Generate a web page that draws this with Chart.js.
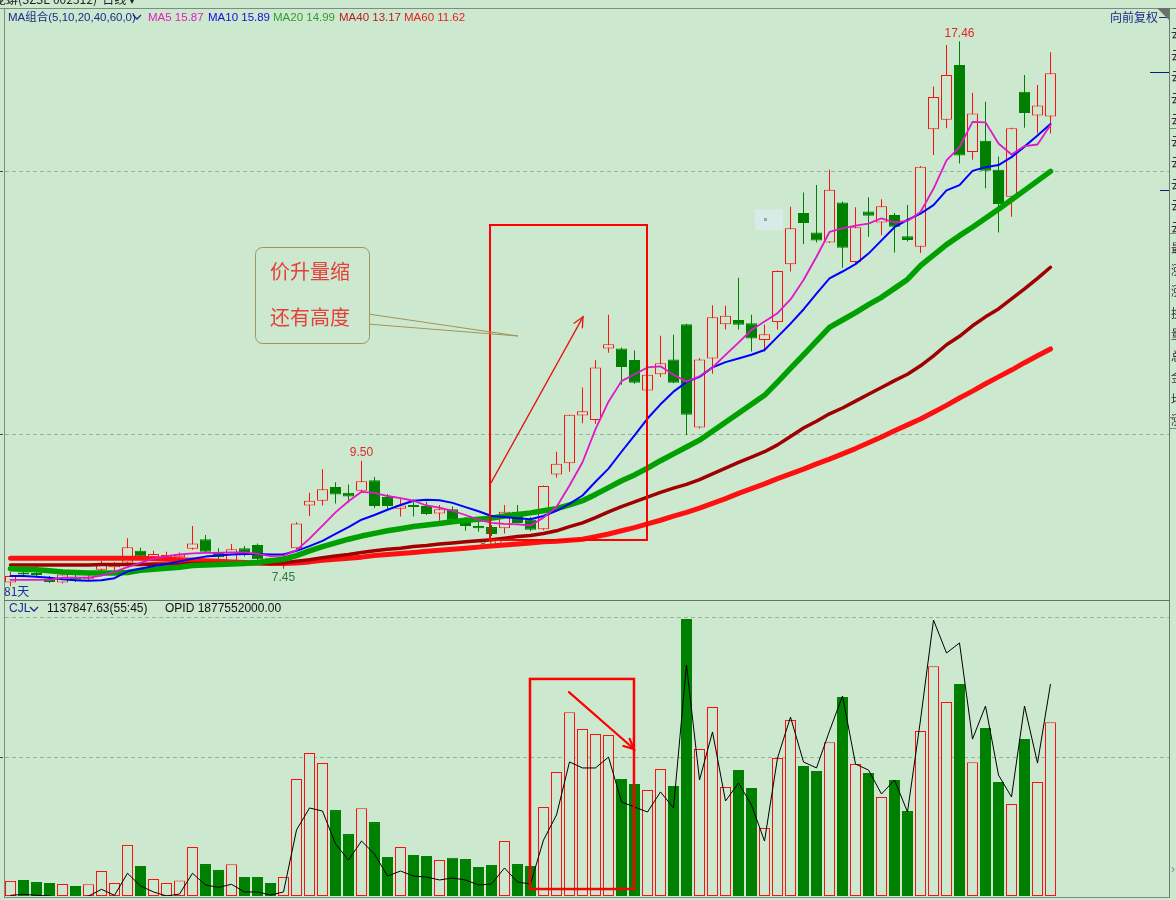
<!DOCTYPE html>
<html>
<head>
<meta charset="utf-8">
<script src="https://cdn.jsdelivr.net/npm/chart.js@4.4.1/dist/chart.umd.min.js"></script>
<style>
  html, body { margin:0; padding:0; background:#CCE8CF; overflow:hidden; }
  body { width:1176px; height:900px; position:relative; }
  canvas { position:absolute; left:0; }
  #priceChart { top:0; }
  #volChart { top:600px; }
  .t { position:absolute; white-space:nowrap; font-family:"Liberation Sans","Noto Sans CJK SC",sans-serif; font-size:12px; line-height:14px; }
  .cjk { font-family:"Noto Sans CJK SC",sans-serif; }
  .hl { position:absolute; height:1px; background:#7f8b7f; }
  .vl { position:absolute; width:1px; background:#7f8b7f; }
</style>
</head>
<body>
<canvas id="priceChart" width="1176" height="600"></canvas>
<canvas id="volChart" width="1176" height="300"></canvas>

<!-- frame -->
<div class="hl" style="left:0;top:8px;width:1176px;"></div>
<div class="vl" style="left:4px;top:8px;height:890px;"></div>
<div class="vl" style="left:1169px;top:8px;height:890px;background:#6f786f;"></div>
<div class="hl" style="left:4px;top:600px;width:1166px;background:#66706a;"></div>
<div class="hl" style="left:4px;top:897px;width:1166px;"></div>

<!-- title (cut off at top) -->
<div class="t cjk" style="left:-6px;top:-8px;color:#222;">龙蟒(SZSE 002312)&nbsp;&nbsp;日线 ▾</div>

<!-- MA header -->
<div class="t" style="left:8px;top:10px;color:#1c2a8c;font-size:11.5px;">MA组合(5,10,20,40,60,0)</div>
<svg style="position:absolute;left:132px;top:14px" width="10" height="7"><polyline points="1,1 5,5 9,1" fill="none" stroke="#1c2a8c" stroke-width="1.3"/></svg>
<div class="t" id="hMA5"  style="left:148px;top:10px;color:#e020c0;font-size:11.5px;"></div>
<div class="t" id="hMA10" style="left:208px;top:10px;color:#1010d8;font-size:11.5px;"></div>
<div class="t" id="hMA20" style="left:273px;top:10px;color:#2f9f2f;font-size:11.5px;"></div>
<div class="t" id="hMA40" style="left:339px;top:10px;color:#b82020;font-size:11.5px;"></div>
<div class="t" id="hMA60" style="left:404px;top:10px;color:#e82020;font-size:11.5px;"></div>

<!-- right-top -->
<div class="t cjk" style="left:1110px;top:10px;color:#1a2a8a;">向前复权</div>
<div style="position:absolute;left:1159px;top:17px;width:9px;height:1px;background:#1a2a8a;"></div>
<svg style="position:absolute;left:1157px;top:8px" width="12" height="12"><polygon points="0,0 12,0 12,12" fill="#6e6e6e"/></svg>
<div style="position:absolute;left:1150px;top:72px;width:19px;height:1px;background:#0c1c7c;"></div>
<div style="position:absolute;left:1160px;top:190px;width:9px;height:1px;background:#0c1c7c;"></div>

<!-- right strip (cut off) -->
<div class="t cjk" style="left:1171px;top:22px;width:5px;overflow:hidden;line-height:21.5px;color:#333;font-size:12px;">云<br>云<br>云<br>云<br>云<br>云<br>云<br>云<br>云<br>云<br>最<br>涨<br>涨<br>换<br>量<br>总<br>金<br>均<br>涨</div>
<div class="hl" style="left:1170px;top:128px;width:6px;"></div>
<div class="hl" style="left:1170px;top:233px;width:6px;"></div>
<div class="hl" style="left:1170px;top:417px;width:6px;"></div>
<div class="hl" style="left:1170px;top:428px;width:6px;"></div>
<div class="t" style="left:1171px;top:862px;color:#889;font-size:12px;">›</div>

<!-- bottom of price panel -->
<div class="t cjk" id="daysLbl" style="left:4px;top:584px;color:#1c309a;"></div>

<!-- volume header -->
<div class="t" style="left:9px;top:601px;color:#1a2a8a;">CJL</div>
<svg style="position:absolute;left:29px;top:606px" width="10" height="7"><polyline points="1,1 5,5 9,1" fill="none" stroke="#1a2a8a" stroke-width="1.3"/></svg>
<div class="t" style="left:47px;top:601px;color:#111;">1137847.63(55:45)</div>
<div class="t" style="left:165px;top:601px;color:#111;">OPID 1877552000.00</div>

<script>
// ---------------- DATA ----------------
const days = Array.from({length: 81}, (_, i) => i);   // trading-day index (81天)
const openP  = [7.19,7.38,7.37,7.26,7.19,7.29,7.26,7.43,7.48,7.57, 7.79,7.67,7.67,7.67,7.83,8.01,7.77,7.60,7.84,7.90, 7.65,7.62,7.84,8.65,8.74,9.00,8.89,8.93,9.13,8.81, 8.59,8.66,8.64,8.50,8.58,8.38,8.26,8.24,8.22,8.53, 8.38,8.20,9.24,9.45,10.36,10.27,11.63,11.63,11.41,10.83, 11.14,11.42,12.09,10.13,11.44,12.09,12.17,12.11,11.79,12.13, 13.23,14.20,13.83,13.64,14.40,13.27,14.23,14.02,14.16,13.76, 13.56,15.79,15.97,17.01,15.36,15.57,15.02,14.51,16.50,16.05, 16.03];
const highP  = [7.39,7.48,7.50,7.31,7.36,7.33,7.35,7.60,7.58,8.03, 7.85,7.79,7.77,7.76,8.26,8.09,7.84,7.92,7.88,7.93, 7.66,7.75,8.33,8.89,9.34,9.09,9.05,9.50,9.19,8.87, 8.79,8.77,8.72,8.66,8.63,8.43,8.38,8.28,8.66,8.66, 8.43,9.03,9.67,10.37,10.89,11.41,12.27,11.65,11.59,11.13, 11.87,11.89,12.10,11.45,12.45,12.44,12.97,12.27,12.08,13.11, 14.32,14.59,14.73,15.02,14.42,14.31,14.50,14.46,14.20,14.35, 15.09,16.60,17.39,17.46,16.48,16.31,15.27,15.82,16.82,16.63, 17.25];
const lowP   = [7.12,7.29,7.29,7.18,7.17,7.20,7.22,7.39,7.41,7.54, 7.65,7.60,7.65,7.64,7.81,7.75,7.64,7.58,7.68,7.60, 7.58,7.45,7.81,8.45,8.65,8.69,8.70,8.91,8.60,8.57, 8.44,8.44,8.47,8.36,8.31,8.17,8.15,8.07,8.12,8.31, 8.16,8.18,9.18,9.29,10.21,10.20,11.55,10.94,10.96,10.82, 11.09,10.97,9.99,10.11,11.15,11.99,11.99,11.57,11.57,11.99, 13.09,13.61,13.64,13.63,13.16,13.25,13.75,13.78,13.45,13.66, 13.44,15.30,15.81,15.14,15.21,14.67,13.83,14.13,15.82,15.71, 15.71];
const closeP = [7.31,7.34,7.33,7.20,7.34,7.24,7.30,7.54,7.54,7.86, 7.68,7.73,7.71,7.72,7.93,7.77,7.67,7.82,7.74,7.63, 7.60,7.67,8.31,8.74,8.96,8.86,8.82,9.11,8.64,8.64, 8.65,8.62,8.49,8.58,8.36,8.26,8.22,8.11,8.53,8.32, 8.19,9.02,9.44,10.37,10.44,11.27,11.71,11.28,10.98,11.13, 11.35,10.98,10.37,11.42,12.22,12.25,12.08,11.82,11.90,13.10, 13.91,14.01,13.68,14.64,13.54,13.93,14.15,14.33,13.94,13.69, 15.08,16.40,16.82,15.29,16.09,15.00,14.37,15.81,16.10,16.24, 16.85];

const ma5  = [7.24,7.24,7.24,7.24,7.28,7.28,7.28,7.32,7.39,7.48, 7.56,7.64,7.69,7.72,7.74,7.75,7.75,7.76,7.76,7.73, 7.69,7.70,7.80,8.02,8.27,8.52,8.73,8.91,8.89,8.83, 8.79,8.74,8.65,8.61,8.55,8.47,8.38,8.32,8.30,8.29, 8.27,8.42,8.62,9.03,9.47,10.10,10.62,11.01,11.14,11.27, 11.29,11.13,11.00,11.10,11.27,11.51,11.74,11.98,12.14,12.30, 12.56,12.93,13.37,13.84,13.91,13.96,14.00,14.10,14.02,14.05, 14.22,14.66,15.20,15.45,15.93,15.92,15.52,15.31,15.47,15.50, 15.87];
const ma10 = [7.31,7.31,7.30,7.28,7.25,7.23,7.22,7.23,7.27,7.40, 7.45,7.50,7.54,7.59,7.64,7.68,7.70,7.72,7.73,7.73, 7.72,7.72,7.79,7.88,7.98,8.11,8.24,8.38,8.47,8.57, 8.66,8.74,8.76,8.75,8.70,8.62,8.54,8.45,8.43,8.41, 8.39,8.45,8.55,8.68,8.84,9.10,9.35,9.67,9.98,10.30, 10.57,10.81,10.99,11.09,11.27,11.37,11.44,11.51,11.60,11.85, 12.10,12.37,12.67,12.96,13.09,13.23,13.43,13.68,13.93,14.07, 14.19,14.35,14.63,14.73,15.00,15.07,15.11,15.26,15.46,15.67, 15.89];
const ma20 = [7.45,7.44,7.43,7.41,7.39,7.38,7.37,7.37,7.37,7.38, 7.42,7.44,7.46,7.48,7.51,7.52,7.53,7.54,7.55,7.57, 7.60,7.63,7.70,7.79,7.87,7.94,8.01,8.07,8.12,8.17, 8.21,8.25,8.28,8.31,8.34,8.37,8.39,8.41,8.45,8.48, 8.51,8.55,8.59,8.66,8.74,8.86,8.99,9.12,9.23,9.36, 9.50,9.63,9.76,9.89,10.06,10.23,10.40,10.57,10.74,10.99, 11.25,11.51,11.77,12.03,12.17,12.31,12.46,12.60,12.77,12.94, 13.20,13.40,13.60,13.77,13.93,14.10,14.27,14.45,14.63,14.81, 14.99];
const ma40 = [7.52,7.52,7.52,7.52,7.52,7.52,7.52,7.53,7.53,7.53, 7.53,7.54,7.54,7.54,7.55,7.55,7.55,7.55,7.55,7.55, 7.55,7.56,7.59,7.62,7.66,7.69,7.72,7.76,7.79,7.82, 7.84,7.87,7.89,7.92,7.94,7.96,7.98,8.00,8.03,8.06, 8.08,8.12,8.17,8.25,8.32,8.42,8.53,8.63,8.72,8.81, 8.90,8.98,9.05,9.14,9.25,9.36,9.47,9.57,9.67,9.80, 9.96,10.12,10.25,10.39,10.50,10.63,10.76,10.89,11.02,11.14, 11.30,11.49,11.70,11.86,12.06,12.23,12.38,12.57,12.76,12.96, 13.17];
const ma60 = [7.65,7.65,7.65,7.65,7.65,7.65,7.65,7.65,7.65,7.65, 7.65,7.64,7.63,7.62,7.61,7.60,7.59,7.58,7.57,7.56, 7.55,7.55,7.56,7.58,7.61,7.63,7.65,7.67,7.70,7.72, 7.74,7.76,7.78,7.80,7.82,7.84,7.86,7.88,7.90,7.92, 7.94,7.96,7.97,7.99,8.01,8.06,8.11,8.17,8.23,8.30, 8.37,8.45,8.52,8.60,8.69,8.78,8.88,8.97,9.06,9.16, 9.25,9.34,9.44,9.53,9.63,9.73,9.84,9.95,10.07,10.18, 10.29,10.42,10.55,10.69,10.82,10.96,11.09,11.22,11.36,11.49, 11.62];

const volume = [10.8,11.5,10.0,9.3,8.6,7.2,8.4,17.9,9.3,36.6, 21.5,12.2,9.3,11.2,35.1,22.9,18.6,22.7,13.6,13.6, 9.3,13.6,83.9,102.5,95.3,61.6,44.4,62.9,53.0,28.0, 35.1,29.4,28.7,25.8,27.5,26.5,20.8,22.2,39.4,22.9, 21.5,63.8,88.9,131.7,119.7,116.1,115.4,83.9,80.3,76.0, 91.0,78.9,198.6,105.4,135.5,78.1,90.3,77.4,48.7,98.9, 126.2,93.2,89.6,110.2,142.7,94.6,88.2,71.0,83.2,60.9, 118.3,164.7,139.1,152.0,95.8,120.4,81.7,66.0,112.5,81.7, 124.5];
const volLine = [0.5,1.2,0.5,0,-2,-2,0,4.8,0.5,16.3, 7.2,2.9,0,1.4,16.3,7.9,6.2,8.4,2.9,2.9, 0.7,2.9,47.3,63.1,60.9,37.3,25.8,39.4,30.1,14.3, 17.9,14.3,13.6,11.5,12.9,11.5,7.9,8.6,20.1,10.0, 8.6,40.1,58.1,96.1,91.8,91.8,99.6,67.4,63.8,60.2, 74.6,63.1,165.6,83.2,117.6,68.1,81.0,65.2,39.4,98.9, 128.3,96.1,91.8,118.3,143.4,94.6,90.3,73.1,83.2,60.2, 126.2,197.8,174.2,181.4,112.5,136.2,86.7,71.0,136.2,95.3, 152.0];

const priceGrid = [10, 15];
const volGrid = [100, 200];

// ---------------- STYLE / LAYOUT ----------------
const BG = '#CCE8CF';
const UP = '#ff1010';
const DOWN = '#008000';
const X_MIN = -0.5, X_MAX = 89.115;
const P_MIN = 6.8947, P_MAX = 18.0522;
const V_MIN = 0, V_MAX = 212.19;

const isUp = days.map(i => closeP[i] >= openP[i]);
const upDays = days.filter(i => isUp[i]);
const dnDays = days.filter(i => !isUp[i]);

document.getElementById('hMA5').textContent  = 'MA5 '  + ma5[80].toFixed(2);
document.getElementById('hMA10').textContent = 'MA10 ' + ma10[80].toFixed(2);
document.getElementById('hMA20').textContent = 'MA20 ' + ma20[80].toFixed(2);
document.getElementById('hMA40').textContent = 'MA40 ' + ma40[80].toFixed(2);
document.getElementById('hMA60').textContent = 'MA60 ' + ma60[80].toFixed(2);
document.getElementById('daysLbl').textContent = days.length + '天';

const xCfg = { type:'linear', display:false, min:X_MIN, max:X_MAX, offset:false,
  afterBuildTicks: s => { s.ticks = [{value: X_MIN}]; } };

const barCommon = { grouped:false, barPercentage:1, categoryPercentage:1, inflateAmount:0, borderSkipped:false };

function lineDS(arr, color, width, order) {
  return { type:'line', data: days.map(i => ({x:i, y:arr[i]})), borderColor: color, borderWidth: width,
    pointRadius:0, tension:0, fill:false, order: order, borderJoinStyle:'round', borderCapStyle:'round' };
}

// annotation overlays (in data units)
const priceNotes = {
  frame: {x0:36.88, x1:48.96, p0:13.97, p1:8.00},
  arrow: {x0:36.96, p0:9.08, x1:44.04, p1:12.23},
  callout: {x0:18.81, x1:27.58, p0:13.555, p1:11.733, tipX:39.04, tipP:11.866, baseP:[12.28, 12.09],
            textX:19.96, lines:[{text:'价升量缩', p:13.10}, {text:'还有高度', p:12.21}]},
  glass: {x0:57.27, x1:59.42, p0:14.27, p1:13.875, dotX:58.04, dotP:14.08}
};
const volNotes = {
  frame: {x0:39.96, x1:47.96, v0:155.6, v1:5.0},
  arrow: {x0:42.96, v0:146.2, x1:47.96, v1:105.4}
};
const priceMarks = [
  {i:73, kind:'high', color:'#e02828'},
  {i:27, kind:'high', color:'#e02828'},
  {i:21, kind:'low',  color:'#2e7a3a'},
];
const underMarks = [ {i:37, kind:'low', color:'#7a6420'} ];

function drawArrow(ctx, x0, y0, x1, y1, head, width, color) {
  ctx.save();
  ctx.strokeStyle = color; ctx.lineWidth = width; ctx.lineCap = 'round';
  ctx.beginPath(); ctx.moveTo(x0, y0); ctx.lineTo(x1, y1); ctx.stroke();
  const a = Math.atan2(y1 - y0, x1 - x0);
  ctx.beginPath();
  ctx.moveTo(x1 - head * Math.cos(a - 0.45), y1 - head * Math.sin(a - 0.45));
  ctx.lineTo(x1, y1);
  ctx.lineTo(x1 - head * Math.cos(a + 0.45), y1 - head * Math.sin(a + 0.45));
  ctx.stroke();
  ctx.restore();
}

function drawMark(ctx, x, y, m) {
  const v = m.kind === 'high' ? highP[m.i] : lowP[m.i];
  const px = x.getPixelForValue(m.i);
  const py = y.getPixelForValue(v) + (m.kind === 'high' ? -8 : 9);
  ctx.fillStyle = m.color;
  ctx.font = '12px "Liberation Sans", sans-serif';
  ctx.textAlign = 'center'; ctx.textBaseline = 'middle';
  ctx.fillText(v.toFixed(2), px, py);
}

const priceDeco = {
  id: 'priceDeco',
  beforeDatasetsDraw(chart) {
    const {ctx, chartArea: a, scales: {x, y}} = chart;
    ctx.save();
    ctx.strokeStyle = '#9db09d'; ctx.lineWidth = 1; ctx.setLineDash([4, 3]);
    priceGrid.forEach(v => {
      const py = Math.round(y.getPixelForValue(v)) + 0.5;
      ctx.beginPath(); ctx.moveTo(a.left + 1, py); ctx.lineTo(a.right, py); ctx.stroke();
    });
    ctx.setLineDash([]);
    ctx.strokeStyle = '#444';
    priceGrid.forEach(v => {
      const py = Math.round(y.getPixelForValue(v)) + 0.5;
      ctx.beginPath(); ctx.moveTo(0, py); ctx.lineTo(a.left - 1, py); ctx.stroke();
    });
    // faint selection square
    const g = priceNotes.glass;
    const gx0 = x.getPixelForValue(g.x0), gx1 = x.getPixelForValue(g.x1);
    const gy0 = y.getPixelForValue(g.p0), gy1 = y.getPixelForValue(g.p1);
    ctx.fillStyle = 'rgba(222,236,240,0.75)';
    ctx.fillRect(gx0, gy0, gx1 - gx0, gy1 - gy0);
    ctx.fillStyle = '#9aa6a8';
    ctx.fillRect(Math.round(x.getPixelForValue(g.dotX)) - 1, Math.round(y.getPixelForValue(g.dotP)) - 1, 3, 3);
    underMarks.forEach(m => drawMark(ctx, x, y, m));
    ctx.restore();
  },
  afterDatasetsDraw(chart) {
    const {ctx, scales: {x, y}} = chart;
    ctx.save();
    priceMarks.forEach(m => drawMark(ctx, x, y, m));

    // red frame
    const f = priceNotes.frame;
    ctx.strokeStyle = '#ff0000'; ctx.lineWidth = 2;
    ctx.strokeRect(Math.round(x.getPixelForValue(f.x0)), Math.round(y.getPixelForValue(f.p0)),
      Math.round(x.getPixelForValue(f.x1) - x.getPixelForValue(f.x0)),
      Math.round(y.getPixelForValue(f.p1) - y.getPixelForValue(f.p0)));
    // arrow
    const ar = priceNotes.arrow;
    drawArrow(ctx, x.getPixelForValue(ar.x0), y.getPixelForValue(ar.p0),
      x.getPixelForValue(ar.x1), y.getPixelForValue(ar.p1), 11, 1.3, '#e41414');

    // callout
    const c = priceNotes.callout;
    const bx0 = Math.round(x.getPixelForValue(c.x0)) + 0.5, bx1 = Math.round(x.getPixelForValue(c.x1)) + 0.5;
    const by0 = Math.round(y.getPixelForValue(c.p0)) + 0.5, by1 = Math.round(y.getPixelForValue(c.p1)) + 0.5;
    const tipX = x.getPixelForValue(c.tipX), tipY = y.getPixelForValue(c.tipP);
    ctx.strokeStyle = '#a39357'; ctx.lineWidth = 1;
    ctx.beginPath();
    ctx.moveTo(bx1, y.getPixelForValue(c.baseP[0])); ctx.lineTo(tipX, tipY);
    ctx.lineTo(bx1, y.getPixelForValue(c.baseP[1]));
    ctx.stroke();
    ctx.beginPath();
    ctx.roundRect(bx0, by0, bx1 - bx0, by1 - by0, 7);
    ctx.fillStyle = BG; ctx.fill(); ctx.stroke();
    ctx.fillStyle = '#e6403a';
    ctx.font = '20px "Noto Sans CJK SC", sans-serif';
    ctx.textAlign = 'left'; ctx.textBaseline = 'middle';
    c.lines.forEach(l => ctx.fillText(l.text, x.getPixelForValue(c.textX), y.getPixelForValue(l.p)));
    ctx.restore();
  }
};

const volDeco = {
  id: 'volDeco',
  beforeDatasetsDraw(chart) {
    const {ctx, chartArea: a, scales: {y}} = chart;
    ctx.save();
    ctx.strokeStyle = '#9db09d'; ctx.lineWidth = 1; ctx.setLineDash([4, 3]);
    volGrid.forEach(v => {
      const py = Math.round(y.getPixelForValue(v)) + 0.5;
      ctx.beginPath(); ctx.moveTo(a.left + 1, py); ctx.lineTo(a.right, py); ctx.stroke();
    });
    ctx.setLineDash([]);
    ctx.strokeStyle = '#444';
    const py = Math.round(y.getPixelForValue(volGrid[0])) + 0.5;
    ctx.beginPath(); ctx.moveTo(0, py); ctx.lineTo(a.left - 1, py); ctx.stroke();
    ctx.restore();
  },
  afterDatasetsDraw(chart) {
    const {ctx, scales: {x, y}} = chart;
    ctx.save();
    const f = volNotes.frame;
    ctx.strokeStyle = '#ff0000'; ctx.lineWidth = 2.5;
    ctx.strokeRect(x.getPixelForValue(f.x0), y.getPixelForValue(f.v0),
      x.getPixelForValue(f.x1) - x.getPixelForValue(f.x0), y.getPixelForValue(f.v1) - y.getPixelForValue(f.v0));
    const ar = volNotes.arrow;
    drawArrow(ctx, x.getPixelForValue(ar.x0), y.getPixelForValue(ar.v0),
      x.getPixelForValue(ar.x1), y.getPixelForValue(ar.v1), 11, 2.2, '#ff0000');
    ctx.restore();
  }
};

const commonOpts = {
  responsive:false, maintainAspectRatio:false, animation:false, devicePixelRatio:1, events:[],
  plugins:{ legend:{display:false}, tooltip:{enabled:false} }
};

new Chart(document.getElementById('priceChart'), {
  type: 'bar',
  data: { datasets: [
    Object.assign({ data: upDays.map(i => ({x:i, y:[lowP[i], highP[i]]})), backgroundColor: UP, borderWidth:0, maxBarThickness:1, order:30 }, barCommon),
    Object.assign({ data: dnDays.map(i => ({x:i, y:[lowP[i], highP[i]]})), backgroundColor: DOWN, borderWidth:0, maxBarThickness:1, order:30 }, barCommon),
    Object.assign({ data: upDays.map(i => ({x:i, y:[openP[i], closeP[i]]})), backgroundColor: BG, borderColor: UP, borderWidth:1, maxBarThickness:11, minBarLength:1, order:20 }, barCommon),
    Object.assign({ data: dnDays.map(i => ({x:i, y:[openP[i], closeP[i]]})), backgroundColor: DOWN, borderColor: DOWN, borderWidth:1, maxBarThickness:11, minBarLength:1, order:20 }, barCommon),
    lineDS(ma60, '#ff1010', 5, 5),
    lineDS(ma40, '#a00000', 3.5, 4),
    lineDS(ma20, '#00a000', 5.5, 3),
    lineDS(ma10, '#0000ff', 2, 2),
    lineDS(ma5,  '#e018c8', 1.8, 1)
  ]},
  options: Object.assign({}, commonOpts, {
    layout: { padding: { left:4, right:7, top:10, bottom:2 } },
    scales: { x: xCfg, y: { type:'linear', display:false, min:P_MIN, max:P_MAX } }
  }),
  plugins: [priceDeco]
});

new Chart(document.getElementById('volChart'), {
  type: 'bar',
  data: { datasets: [
    Object.assign({ data: upDays.map(i => ({x:i, y:volume[i]})), backgroundColor: BG, borderColor: UP, borderWidth:1, maxBarThickness:11, order:20 }, barCommon),
    Object.assign({ data: dnDays.map(i => ({x:i, y:volume[i]})), backgroundColor: DOWN, borderColor: DOWN, borderWidth:1, maxBarThickness:11, order:20 }, barCommon),
    { type:'line', data: days.map(i => ({x:i, y:volLine[i]})), borderColor:'#000', borderWidth:1, pointRadius:0, tension:0, fill:false, order:1 }
  ]},
  options: Object.assign({}, commonOpts, {
    layout: { padding: { left:4, right:7, top:0, bottom:4 } },
    scales: { x: xCfg, y: { type:'linear', display:false, min:V_MIN, max:V_MAX } }
  }),
  plugins: [volDeco]
});
</script>
</body>
</html>
